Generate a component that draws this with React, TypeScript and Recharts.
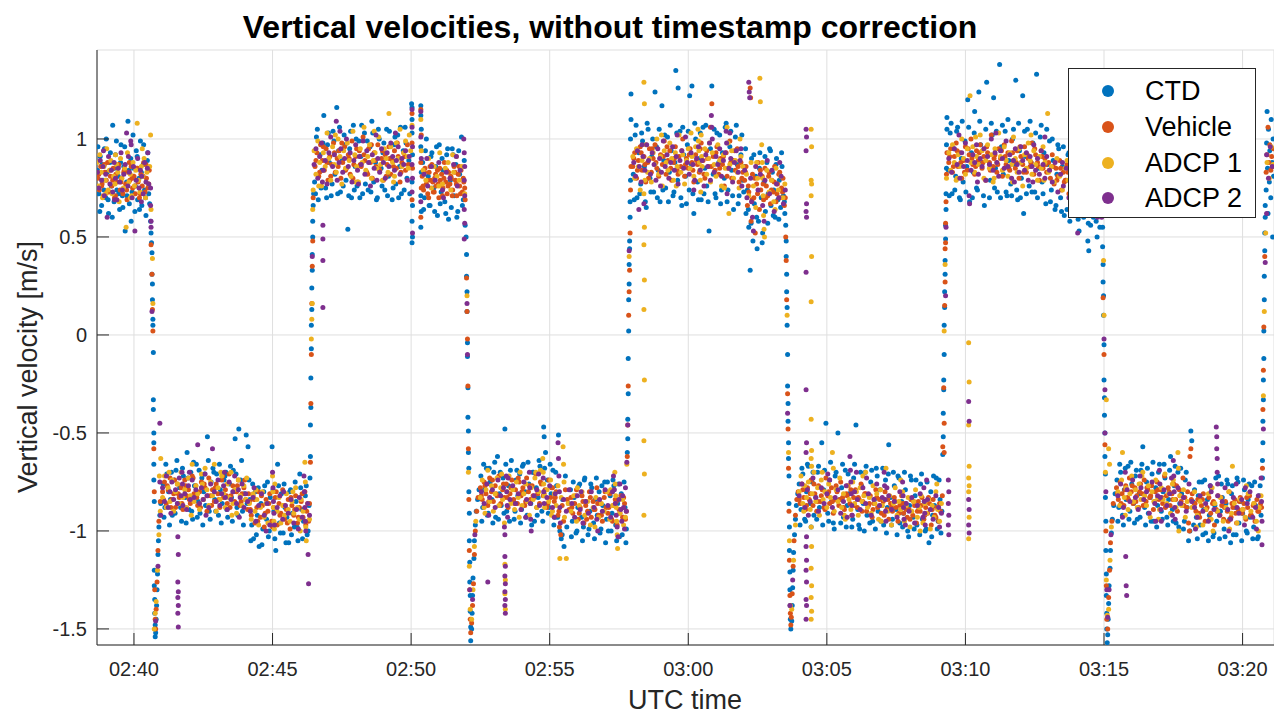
import React from 'react';
import { ScatterChart, Scatter, XAxis, YAxis, CartesianGrid } from 'recharts';

// time axis: seconds since 02:00:00 UTC
const xTicks = [2400, 2700, 3000, 3300, 3600, 3900, 4200, 4500, 4800];
const xTickLabels = ['02:40', '02:45', '02:50', '02:55', '03:00', '03:05', '03:10', '03:15', '03:20'];
const yTicks = [-1.5, -1, -0.5, 0, 0.5, 1];
const yTickLabels = ['-1.5', '-1', '-0.5', '0', '0.5', '1'];
const seriesNames = ['CTD', 'Vehicle', 'ADCP 1', 'ADCP 2'];
const seriesColors = ['#0072BD', '#D95319', '#EDB120', '#7E2F8E'];

// ---------- CTD (time [s], velocity [m/s]) pairs ----------
const ctdLeg1 = [2321,0.84,2324,0.72,2327,0.91,2330,0.66,2333,0.79,2336,0.95,2339,0.70,2342,0.83,2345,0.62,2348,0.88,2351,0.76,2354,1.07,2357,0.68,2360,0.92,2363,0.74,2366,0.81,2369,0.64,2372,0.97,2375,0.71,2378,0.86,2381,0.53,2384,0.78,2387,1.09,2390,0.67,2393,0.90,2396,0.73,2399,0.85,2402,0.63,2405,0.94,2408,0.69,2411,0.80,2414,0.99,2417,0.66,2420,0.87,2423,0.74,2426,0.61,2429,0.89,2432,0.72,
2436,0.58,2437,0.52,2438,0.47,2439,0.42,2439,0.31,2440,0.26,2440,0.18,2441,0.08,2441,0.05,2442,-0.09,2442,-0.33,2442,-0.38,2443,-0.50,2443,-0.55,2443,-0.66,2443,-0.74,2444,-0.85,2444,-1.20,2444,-1.28,2445,-1.35,2445,-1.42,2446,-1.48,2446,-1.54,
2447,-1.52,2448,-1.45,2449,-1.38,2450,-1.30,2451,-1.22,2452,-1.12,2453,-1.05,2454,-0.98,2456,-0.92,2458,-0.86];
const ctdLeg2 = [2463,-0.76,2467,-0.88,2471,-0.71,2475,-0.80,2479,-0.84,2483,-0.92,2487,-0.74,2491,-0.69,2495,-0.86,2499,-0.78,2503,-0.95,2507,-0.72,2511,-0.83,2515,-0.60,2519,-0.89,2523,-0.70,2527,-0.94,2531,-0.77,2535,-0.66,2539,-0.85,2543,-0.91,2547,-0.73,2551,-0.80,2555,-0.87,2559,-0.52,2563,-0.90,2567,-0.75,2571,-0.68,2575,-0.84,2579,-0.71,2583,-0.92,2587,-0.79,2591,-0.86,2595,-0.74,2599,-0.70,2603,-0.93,2607,-0.76,2611,-0.83,2615,-0.69,2619,-0.53,2623,-0.88,2627,-0.48,2631,-0.74,2635,-0.90,2639,-0.81,2643,-0.51,2647,-0.57,
2651,-0.84,2655,-0.97,2659,-1.04,2663,-0.80,2667,-0.92,2671,-1.08,2675,-0.86,2679,-0.99,2683,-0.77,2687,-0.94,2691,-1.03,2695,-0.83,2699,-0.57,2703,-0.90,2707,-1.10,2711,-0.66,2715,-0.96,2719,-0.81,2723,-1.01,2727,-0.88,2731,-0.93,2735,-1.06,2739,-0.79,2743,-0.91,2747,-0.98,2751,-0.85,2755,-1.05,2759,-0.71,2763,-0.89,2767,-0.95,2771,-0.82,2775,-1.02,2779,-0.87,
2781,-0.73,2782,-0.62,2782,-0.46,2783,-0.37,2783,-0.22,2784,-0.07,2784,0.05,2785,0.13,2785,0.24,2786,0.33,2786,0.41,2787,0.50,2787,0.58,2788,0.66,2789,0.72];
const ctdLeg3 = [2791,0.78,2795,1.01,2799,0.69,2803,0.92,2807,0.84,2811,1.12,2815,0.75,2819,0.97,2823,0.88,2827,0.71,2831,1.04,2835,0.82,2839,1.16,2843,0.94,2847,0.73,2851,0.89,2855,1.02,2859,0.79,2863,0.54,2867,0.95,2871,0.70,2875,1.07,2879,0.86,2883,0.76,2887,0.99,2891,0.91,2895,0.72,2899,1.03,2903,0.83,2907,0.74,2911,0.96,2915,1.09,2919,0.78,2923,0.88,2927,0.70,2931,1.00,2935,0.85,2939,0.93,2943,0.74,2947,1.05,2951,0.81,2955,0.90,2959,0.69,2963,0.97,2967,0.77,2971,1.02,2975,0.86,2979,0.72,2983,0.94,2987,1.06,2991,0.80,2995,0.89,
3001,1.18,3002,1.16,3002,1.10,3002,1.03,3003,0.92,3002,0.78,3003,0.66,3002,0.58,3003,0.50,3002,0.47,
3021,1.17,3021,1.12,3022,1.05,3021,0.96,3022,0.83,3021,0.71,3022,0.63,3021,0.55,
3025,0.88,3029,0.70,3033,1.00,3037,0.81,3041,0.66,3045,0.93,3049,0.75,3053,0.86,3057,0.61,3061,0.97,3065,0.73,3069,0.84,3073,0.68,3077,0.92,3081,0.59,3085,0.79,3089,0.95,3093,0.71,3097,0.87,3101,0.63,3105,0.82,3109,1.01,3113,0.69,3117,0.56,
3119,0.50,3120,0.41,3120,0.30,3121,0.22,3121,0.12,3122,-0.04,3122,-0.11,3123,-0.27,3123,-0.42,3124,-0.49,3124,-0.60,3125,-0.68,3125,-0.80,3126,-0.91,3126,-1.05,3127,-1.16,3127,-1.26,3128,-1.33,3128,-1.41,3129,-1.49,3129,-1.56,
3131,-1.50,3132,-1.42,3133,-1.33,3134,-1.24,3136,-1.14,3137,-1.05,3139,-0.97,3141,-0.90,3144,-0.84,3147,-0.79];
const ctdLeg4 = [3151,-0.72,3155,-0.88,3159,-0.79,3163,-0.68,3167,-0.91,3171,-0.75,3175,-0.84,3179,-0.70,3183,-0.93,3187,-0.62,3191,-0.81,3195,-0.87,3199,-0.73,3203,-0.48,3207,-0.90,3211,-0.77,3215,-0.69,3219,-0.85,3223,-0.94,3227,-0.74,3231,-0.82,3235,-0.71,3239,-0.89,3243,-0.66,3247,-0.80,3251,-0.92,3255,-0.76,3259,-0.86,3263,-0.70,3267,-0.95,3271,-0.78,3275,-0.83,3279,-0.67,3283,-0.90,3287,-0.47,3288,-0.52,3291,-0.60,3295,-0.74,3299,-0.88,3303,-0.81,3307,-0.69,3311,-0.93,3315,-0.77,3319,-0.51,3322,-1.00,3325,-1.04,3328,-0.84,3331,-1.08,3334,-0.72,3337,-0.98,3341,-0.86,
3345,-0.79,3349,-0.95,3353,-0.83,3357,-1.01,3361,-0.88,3365,-0.76,3369,-0.93,3373,-0.98,3376,-0.73,3379,-0.85,3383,-1.02,3387,-0.90,3391,-0.78,3395,-0.96,3399,-0.84,3403,-0.92,3407,-0.80,3411,-0.99,3415,-0.87,3419,-0.75,3423,-0.94,3427,-1.00,3431,-0.82,3435,-0.91,3439,-0.77,3443,-0.97,3447,-0.86,3451,-1.03,3455,-0.81,3459,-0.93,3463,-0.88,3466,-0.99,
3468,-0.60,3469,-0.53,3469,-0.43,3470,-0.30,3470,-0.12,3471,0.02,3471,0.18,3472,0.26,3472,0.36,3473,0.44,3473,0.48,3474,0.60,3474,0.68,3475,0.79,3475,1.00,3476,1.10,3476,1.23];
const ctdLeg5 = [3481,0.82,3485,1.02,3489,0.70,3493,0.93,3497,0.77,3501,0.99,3505,0.86,3509,0.65,3513,1.05,3517,0.80,3521,0.91,3525,0.73,3528,1.24,3531,0.96,3535,0.84,3539,0.68,3543,1.17,3547,0.89,3551,0.75,3555,1.01,3559,0.83,3563,0.94,3567,0.71,3571,0.88,3573,1.35,3577,0.79,3578,1.26,3582,1.04,3586,0.66,3590,0.92,3594,0.81,3598,0.97,3602,0.74,3603,1.22,3607,0.87,3608,1.27,3612,0.62,3616,1.00,3620,0.78,3624,0.90,3628,0.69,3632,1.06,3636,0.85,3640,0.76,3645,0.53,3648,0.95,3651,1.27,3654,0.82,3658,0.72,3662,1.03,3666,0.88,3670,0.67,3674,0.93,3678,0.80,3682,1.08,3686,0.74,3690,0.96,3694,0.84,3698,0.64,3702,1.01,3706,0.87,3710,0.71,3714,0.92,3718,0.79,
3722,0.86,3725,0.62,3728,0.74,3731,0.55,3734,0.33,3737,0.90,3740,0.48,3743,0.67,3746,0.81,3749,0.44,3752,0.58,3755,0.93,3758,0.70,3761,0.52,3764,0.78,3767,0.63,3770,0.88,3773,0.72,3776,0.95,3779,0.66,3782,0.83,3785,0.74,3788,0.60,3791,0.90,3794,0.69,3797,0.79,3800,0.65,3803,0.86,3806,0.71,3809,0.62,
3811,0.56,3812,0.48,3812,0.40,3813,0.31,3813,0.22,3814,0.14,3814,0.05,3815,-0.10,3815,-0.26,3816,-0.35,3816,-0.44,3817,-0.55,3817,-0.63,3818,-0.72,3818,-0.86,3819,-0.98,3819,-1.10,3820,-1.21,3820,-1.30,3821,-1.38,3821,-1.45,3822,-1.50,
3824,-1.46,3825,-1.38,3826,-1.29,3827,-1.20,3828,-1.11,3830,-1.02,3832,-0.94,3834,-0.87,3837,-0.81];
const ctdLeg6 = [3840,-0.76,3844,-0.89,3848,-0.71,3852,-0.94,3856,-0.80,3860,-0.67,3864,-0.86,3868,-0.75,3872,-0.92,3876,-0.83,3880,-0.70,3884,-0.88,3889,-0.55,3893,-0.79,3898,-0.45,3902,-0.91,3906,-0.74,3910,-0.85,3914,-0.96,3918,-0.72,3924,-0.50,3928,-0.84,3932,-0.78,3936,-0.93,3940,-0.69,3944,-0.87,3948,-0.81,3954,-0.98,3958,-0.73,3963,-0.46,3967,-0.89,3971,-0.99,3975,-0.77,3979,-0.86,3983,-0.70,3987,-0.92,3991,-0.82,3995,-0.75,3999,-0.95,4003,-0.84,4007,-0.68,4011,-0.90,4015,-0.79,4019,-0.87,4023,-0.97,4027,-0.74,4031,-0.88,4034,-0.56,4038,-0.83,4042,-0.94,4046,-0.77,4050,-0.89,4054,-0.72,4058,-0.96,4062,-0.85,4066,-0.91,4070,-0.79,4075,-1.00,4079,-0.87,4083,-0.74,4087,-0.93,4091,-0.82,4095,-0.97,4099,-0.88,4103,-0.76,4107,-0.94,4111,-0.85,4115,-0.99,4121,-1.06,4125,-0.80,4129,-0.92,4133,-0.87,4137,-0.73,4141,-0.95,4145,-0.84,4149,-0.90,
4151,-0.61,4152,-0.52,4152,-0.40,4153,-0.28,4153,-0.23,4154,-0.10,4154,0.05,4155,0.14,4155,0.22,4156,0.31,4156,0.38,4157,0.49,4157,0.56,4158,0.64,4158,0.72,4159,0.85,4159,0.97,4160,1.05,4160,1.11];
const ctdLeg7 = [4163,0.84,4167,1.03,4171,0.72,4175,0.95,4179,0.81,4183,1.06,4187,0.70,4191,0.90,4195,0.78,4199,0.99,4203,0.86,4205,1.20,4209,0.68,4213,0.93,4217,0.83,4220,1.14,4224,0.75,4229,1.24,4233,0.97,4237,0.88,4241,0.66,4246,1.29,4250,0.92,4254,0.79,4258,1.02,4261,1.21,4265,0.85,4269,0.73,4274,1.38,4278,0.96,4282,0.82,4286,1.04,4290,0.71,4294,0.89,4298,0.77,4302,1.00,4306,0.87,4309,1.30,4313,0.69,4317,0.94,4321,0.80,4324,1.22,4326,0.62,4330,0.91,4334,1.05,4338,0.76,4342,0.88,4346,0.98,4350,0.73,4354,1.33,4358,0.85,4362,1.01,4366,0.78,4370,0.93,4374,0.67,4378,0.87,
4382,0.99,4386,0.74,4390,0.89,4394,0.64,4398,0.82,4402,0.95,4406,0.70,4410,0.86,4414,0.61,4418,0.79,4422,0.92,4426,0.58,4430,0.75,4434,0.88,4438,0.66,4442,0.80,4446,0.53,4450,0.72,4454,0.86,4458,0.63,4462,0.77,4465,0.48,4466,0.57,4467,0.43,4469,0.69,4473,0.82,4477,0.60,4481,0.74,4485,0.50,4489,0.68,4493,0.79,
4496,0.63,4497,0.55,4497,0.45,4498,0.36,4498,0.27,4499,0.20,4499,0.10,4500,-0.05,4500,-0.23,4501,-0.32,4501,-0.41,4502,-0.50,4502,-0.62,4503,-0.71,4503,-0.83,4504,-0.95,4504,-1.10,4505,-1.22,4505,-1.33,4506,-1.42,4506,-1.50,4507,-1.57,
4508,-1.53,4509,-1.45,4510,-1.37,4511,-1.28,4513,-1.19,4514,-1.10,4516,-1.01,4518,-0.94,4521,-0.87,4524,-0.81];
const ctdLeg8 = [4528,-0.74,4532,-0.88,4536,-0.70,4540,-0.92,4544,-0.79,4548,-0.84,4552,-0.67,4556,-0.90,4560,-0.76,4564,-0.86,4568,-0.72,4572,-0.94,4576,-0.81,4580,-0.69,4584,-0.57,4588,-0.88,4592,-0.75,4596,-0.91,4600,-0.83,4604,-0.71,4608,-0.95,4612,-0.78,4616,-0.87,4620,-0.66,4624,-0.90,4628,-0.80,4632,-0.73,4636,-0.93,4640,-0.84,4644,-0.62,4648,-0.89,4652,-0.77,4656,-0.96,4660,-0.70,4664,-0.86,4668,-0.81,4672,-0.99,4676,-0.74,4680,-0.88,4683,-1.05,4686,-1.00,4688,-0.49,4690,-0.54,4692,-0.85,4696,-0.79,
4700,-0.93,4704,-0.82,4708,-0.97,4712,-0.75,4716,-0.89,4720,-1.01,4724,-0.84,4728,-0.92,4732,-0.78,4736,-1.03,4740,-0.87,4744,-0.95,4748,-0.72,4752,-0.90,4756,-0.83,4760,-0.99,4764,-0.86,4768,-0.76,4772,-0.94,4776,-0.81,4780,-1.02,4784,-0.88,4788,-0.73,4792,-0.96,4796,-0.85,4800,-0.91,4804,-0.79,4808,-1.00,4812,-0.84,4816,-0.93,4820,-0.77,4824,-0.98,4828,-0.87,4832,-1.04,4836,-0.82,4840,-0.92,
4843,-0.73,4843,-0.64,4844,-0.55,4844,-0.44,4845,-0.33,4845,-0.23,4846,-0.12,4846,0.02,4847,0.18,4847,0.30,4848,0.43,4848,0.52,4849,0.60,4849,0.66];
const ctdLeg9 = [4851,0.74,4852,0.98,4853,1.14,4854,0.85,4855,0.62,4856,1.05,4858,0.78,4859,0.94,4861,0.70,4862,1.10,4864,0.88,4865,0.50,4866,1.00,4867,0.81];
// extra CTD samples (band edges)
const ctdExtraA = [2322,0.96,2326,0.63,2331,0.87,2335,0.74,2340,1.00,2344,0.69,2349,0.93,2353,0.60,2358,0.85,2362,0.99,2367,0.72,2371,0.88,2376,0.65,2380,0.96,2385,0.71,2389,0.84,2394,0.58,2398,1.02,2403,0.76,2407,0.91,2412,0.64,2416,0.83,2421,0.97,2425,0.70,2430,0.93,2434,0.67];
const ctdExtraB = [2465,-0.93,2469,-0.66,2477,-0.97,2481,-0.70,2489,-0.91,2493,-0.64,2501,-0.88,2505,-0.68,2513,-0.96,2517,-0.73,2525,-0.90,2529,-0.65,2537,-0.93,2541,-0.69,2549,-0.97,2553,-0.71,2561,-0.64,2565,-0.94,2573,-0.70,2577,-0.90,2585,-0.66,2589,-0.96,2597,-0.72,2601,-0.89,2609,-0.67,2613,-0.95,2621,-0.71,2625,-0.92,2633,-0.64,2637,-0.97,2645,-0.86,2649,-0.74,
2653,-1.05,2657,-0.76,2665,-1.02,2669,-0.78,2677,-1.07,2681,-0.80,2689,-0.75,2693,-1.00,2701,-0.79,2705,-1.04,2713,-0.77,2717,-1.01,2725,-0.76,2729,-1.06,2737,-0.80,2741,-1.02,2749,-0.75,2753,-0.98,2761,-0.78,2765,-1.04,2773,-0.77,2777,-1.00];
const ctdExtraC = [2793,0.72,2797,1.05,2805,0.75,2809,0.98,2817,0.70,2821,1.03,2829,0.77,2833,0.99,2841,0.72,2845,1.06,2853,0.76,2857,0.97,2865,0.71,2869,1.04,2877,0.74,2881,1.00,2889,0.70,2893,1.07,2901,0.77,2905,0.99,2913,0.73,2917,1.03,2925,0.69,2929,1.05,2937,0.76,2941,0.98,2949,0.71,2953,1.04,2961,0.75,2965,1.01,2973,0.70,2977,1.06,2985,0.74,2989,0.98,2997,0.72,
3027,0.64,3031,0.94,3039,0.66,3043,0.91,3051,0.63,3055,0.96,3063,0.67,3067,0.90,3075,0.62,3079,0.95,3087,0.65,3091,0.92,3099,0.60,3103,0.94,3111,0.66,3115,0.89];
const ctdExtraD = [3153,-0.95,3157,-0.66,3165,-0.92,3169,-0.68,3177,-0.96,3181,-0.65,3189,-0.94,3193,-0.70,3201,-0.91,3205,-0.66,3213,-0.95,3217,-0.64,3225,-0.90,3229,-0.69,3237,-0.96,3241,-0.67,3249,-0.93,3253,-0.65,3261,-0.97,3265,-0.70,3273,-0.92,3277,-0.64,3285,-0.95,3289,-0.68,3297,-0.91,3301,-0.66,3309,-0.97,3313,-0.70,3317,-0.93,3327,-1.02,
3347,-1.03,3351,-0.75,3359,-1.00,3363,-0.77,3371,-1.05,3375,-0.74,3385,-0.99,3389,-0.76,3397,-1.04,3401,-0.73,3409,-1.01,3413,-0.77,3421,-1.06,3425,-0.75,3433,-1.00,3437,-0.74,3445,-1.05,3449,-0.76,3457,-1.02,3461,-0.75,3465,-1.06];
const ctdExtraE = [3483,0.69,3487,1.07,3495,0.72,3499,1.03,3507,0.68,3511,1.08,3519,0.73,3523,1.00,3533,0.70,3537,1.05,3545,0.74,3549,1.02,3557,0.68,3561,1.07,3569,0.73,3575,1.03,3584,0.70,3588,1.06,3596,0.67,3600,1.04,3610,0.72,3614,1.08,3622,0.69,3626,1.03,3634,0.72,3638,1.07,3643,0.68,3656,1.05,3660,0.70,3668,1.02,3672,0.74,3680,1.06,3684,0.68,3692,1.04,3696,0.71,3704,1.07,3708,0.67,3716,1.02,3720,0.73,
3724,0.95,3730,0.64,3736,0.57,3742,0.92,3748,0.60,3754,0.85,3760,0.47,3766,0.91,3772,0.57,3778,0.94,3784,0.61,3790,0.87,3796,0.59,3802,0.93,3808,0.68];
const ctdExtraF = [3842,-0.97,3846,-0.68,3854,-0.95,3858,-0.66,3866,-0.98,3870,-0.70,3878,-0.94,3882,-0.67,3891,-0.97,3895,-0.69,3904,-0.95,3908,-0.65,3916,-0.99,3920,-0.70,3930,-0.96,3934,-0.66,3942,-0.98,3946,-0.71,3956,-0.94,3960,-0.66,3969,-0.97,3973,-0.70,3981,-1.00,3985,-0.67,3993,-0.96,3997,-0.69,4005,-0.99,4009,-0.72,4017,-0.95,4021,-0.68,4029,-1.01,4033,-0.71,4040,-0.97,4044,-0.70,4052,-1.02,4056,-0.73,4064,-0.98,4068,-0.70,4077,-1.03,4081,-0.72,4089,-0.99,4093,-0.74,4101,-1.02,4105,-0.71,4113,-1.00,4117,-0.75,4127,-1.03,4131,-0.72,4139,-0.99,4143,-0.74,4147,-1.01];
const ctdExtraG = [4165,0.71,4169,1.08,4177,0.74,4181,1.04,4189,0.69,4193,1.09,4201,0.73,4207,1.06,4215,0.70,4219,1.03,4226,0.74,4231,1.09,4239,0.71,4244,1.05,4252,0.70,4256,1.08,4263,0.75,4267,1.04,4276,0.70,4280,1.07,4288,0.73,4292,1.10,4300,0.71,4304,1.05,4311,0.74,4315,1.08,4319,0.70,4328,1.04,4332,0.72,4340,1.09,4344,0.73,4352,1.03,4356,0.70,4364,1.07,4368,0.72,4376,1.05,
4384,0.68,4388,1.00,4396,0.66,4400,0.97,4408,0.63,4412,0.96,4420,0.64,4424,0.93,4432,0.62,4436,0.95,4444,0.59,4448,0.91,4456,0.60,4460,0.90,4471,0.56,4475,0.88,4483,0.58,4487,0.87,4491,0.55];
const ctdExtraH = [4530,-0.95,4534,-0.66,4542,-0.97,4546,-0.68,4554,-0.94,4558,-0.65,4566,-0.96,4570,-0.69,4578,-0.93,4582,-0.66,4590,-0.97,4594,-0.68,4602,-0.95,4606,-0.65,4614,-0.98,4618,-0.70,4626,-0.94,4630,-0.66,4638,-0.97,4642,-0.69,4650,-0.95,4654,-0.67,4662,-0.98,4666,-0.68,4674,-0.95,4678,-0.70,4694,-0.97,
4702,-1.04,4706,-0.75,4714,-1.02,4718,-0.74,4726,-1.05,4730,-0.77,4738,-1.01,4742,-0.73,4750,-1.04,4754,-0.76,4762,-1.03,4766,-0.74,4774,-1.06,4778,-0.77,4786,-1.02,4790,-0.75,4798,-1.05,4802,-0.74,4810,-1.01,4814,-0.76,4822,-1.04,4826,-0.75,4834,-1.03,4838,-0.77];

// ---------- Vehicle ----------
const vehLeg1 = [2322,0.80,2325,0.74,2328,0.86,2331,0.77,2334,0.71,2337,0.83,2340,0.79,2343,0.88,2346,0.73,2349,0.81,2352,0.76,2355,0.85,2358,0.70,2361,0.82,2364,0.78,2367,0.87,2370,0.74,2373,0.80,2376,0.72,2379,0.84,2382,0.77,2385,0.69,2388,0.83,2391,0.79,2394,0.86,2397,0.75,2400,0.81,2403,0.72,2406,0.85,2409,0.78,2412,0.70,2415,0.82,2418,0.76,2421,0.88,2424,0.73,2427,0.80,2430,0.75,2433,0.84,
2437,0.46,2439,0.31,2440,0.13,2441,0.02,2443,-0.58,2444,-0.80,2445,-1.30,2446,-1.45,2447,-1.50,2448,-1.40,2450,-1.26,2452,-1.10,2454,-0.95,2457,-0.85];
const vehLeg2 = [2462,-0.80,2466,-0.75,2470,-0.86,2474,-0.79,2478,-0.73,2482,-0.84,2486,-0.81,2490,-0.88,2494,-0.76,2498,-0.83,2502,-0.78,2506,-0.89,2510,-0.74,2514,-0.82,2518,-0.79,2522,-0.86,2526,-0.72,2530,-0.81,2534,-0.77,2538,-0.87,2542,-0.80,2546,-0.75,2550,-0.84,2554,-0.78,2558,-0.90,2562,-0.73,2566,-0.82,2570,-0.79,2574,-0.85,2578,-0.76,2582,-0.81,2586,-0.88,2590,-0.74,2594,-0.83,2598,-0.79,2602,-0.86,2606,-0.71,2610,-0.82,2614,-0.77,2618,-0.85,2622,-0.80,2626,-0.74,2630,-0.87,2634,-0.81,2638,-0.78,2642,-0.84,2646,-0.89,
2650,-0.85,2654,-0.92,2658,-0.82,2662,-0.96,2666,-0.88,2670,-0.80,2674,-0.93,2678,-0.87,2682,-0.98,2686,-0.84,2690,-0.90,2694,-0.81,2698,-0.95,2702,-0.88,2706,-0.83,2710,-0.97,2714,-0.86,2718,-0.91,2722,-0.79,2726,-0.94,2730,-0.89,2734,-0.84,2738,-0.99,2742,-0.87,2746,-0.92,2750,-0.82,2754,-0.96,2758,-0.88,2762,-0.85,2766,-0.93,2770,-0.80,2774,-0.90,2778,-0.95,
2782,-0.65,2783,-0.35,2784,-0.10,2785,0.16,2786,0.35,2787,0.48,2788,0.70];
const vehLeg3 = [2792,0.86,2796,0.93,2800,0.81,2804,0.97,2808,0.89,2812,0.84,2816,0.95,2820,0.79,2824,0.91,2828,0.87,2832,0.98,2836,0.83,2840,0.90,2844,0.94,2848,0.80,2852,0.88,2856,0.96,2860,0.85,2864,0.92,2868,0.82,2872,0.99,2876,0.87,2880,0.91,2884,0.78,2888,0.94,2892,0.86,2896,1.01,2900,0.89,2904,0.83,2908,0.95,2912,0.88,2916,0.80,2920,0.93,2924,0.86,2928,0.97,2932,0.84,2936,0.90,2940,0.79,2944,0.92,2948,0.87,2952,0.96,2956,0.82,2960,0.89,2964,0.94,2968,0.85,2972,0.91,2976,0.78,2980,0.88,2984,0.93,2988,0.84,2992,0.97,2996,0.86,
3002,1.13,3002,0.98,3003,0.85,3002,0.69,3021,1.15,3022,1.02,3021,0.88,3022,0.75,3021,0.60,
3024,0.81,3027,0.74,3030,0.85,3033,0.77,3036,0.72,3039,0.83,3042,0.79,3045,0.87,3048,0.73,3051,0.80,3054,0.76,3057,0.84,3060,0.70,3063,0.79,3066,0.82,3069,0.75,3072,0.88,3075,0.78,3078,0.72,3081,0.83,3084,0.77,3087,0.80,3090,0.74,3093,0.86,3096,0.79,3099,0.71,3102,0.82,3105,0.76,3108,0.84,3111,0.73,3114,0.78,3117,0.69,
3120,0.29,3121,0.12,3122,-0.02,3123,-0.26,3124,-0.58,3125,-0.84,3126,-1.10,3127,-1.30,3128,-1.45,3129,-1.52,3131,-1.47,3133,-1.38,3135,-1.27,3137,-1.12,3139,-1.00,3142,-0.90,3145,-0.83];
const vehLeg4 = [3150,-0.78,3154,-0.84,3158,-0.75,3162,-0.81,3166,-0.87,3170,-0.73,3174,-0.80,3178,-0.85,3182,-0.77,3186,-0.82,3190,-0.72,3194,-0.86,3198,-0.79,3202,-0.83,3206,-0.76,3210,-0.88,3214,-0.81,3218,-0.74,3222,-0.84,3226,-0.79,3230,-0.86,3234,-0.75,3238,-0.82,3242,-0.78,3246,-0.87,3250,-0.73,3254,-0.80,3258,-0.84,3262,-0.77,3266,-0.83,3270,-0.71,3274,-0.81,3278,-0.86,3282,-0.76,3286,-0.82,3290,-0.79,3294,-0.88,3298,-0.74,3302,-0.83,3306,-0.78,3310,-0.85,3314,-0.80,3318,-0.92,3321,-0.98,3324,-1.02,3327,-0.87,3330,-0.95,3334,-0.79,3338,-0.84,3342,-0.89,
3346,-0.83,3350,-0.91,3354,-0.86,3358,-0.79,3362,-0.94,3366,-0.88,3370,-0.82,3374,-0.96,3378,-0.87,3382,-0.90,3386,-0.80,3390,-0.93,3394,-0.85,3398,-0.89,3402,-0.78,3406,-0.92,3410,-0.86,3414,-0.95,3418,-0.83,3422,-0.88,3426,-0.91,3430,-0.81,3434,-0.94,3438,-0.87,3442,-0.84,3446,-0.97,3450,-0.89,3454,-0.82,3458,-0.93,3462,-0.86,3466,-0.90,
3468,-0.62,3469,-0.46,3470,-0.26,3471,0.10,3472,0.22,3473,0.33,3474,0.52,3475,0.74,3476,0.86];
const vehLeg5 = [3480,0.86,3484,0.93,3488,0.80,3492,0.89,3496,0.96,3500,0.84,3504,0.91,3508,0.78,3512,0.88,3516,0.95,3520,0.83,3524,0.90,3528,0.97,3532,0.85,3536,0.81,3540,0.92,3544,0.87,3548,0.99,3552,0.82,3556,0.89,3560,0.94,3564,0.79,3568,0.88,3572,0.96,3576,0.84,3580,0.91,3584,0.86,3588,1.00,3592,0.81,3596,0.90,3600,0.85,3604,0.95,3608,0.88,3612,0.78,3616,0.92,3620,0.87,3624,0.83,3628,0.98,3632,0.89,3636,0.80,3640,0.94,3644,0.86,3648,1.06,3651,1.18,3654,0.91,3658,0.84,3662,0.96,3666,0.82,3670,0.90,3674,0.87,3678,0.76,3682,0.93,3686,0.85,3690,0.99,3694,0.80,3698,0.89,3702,0.84,3706,0.95,3710,0.78,3714,0.88,3718,0.83,
3722,0.79,3725,0.86,3728,0.66,3731,0.73,3734,1.26,3735,1.21,3736,0.58,3739,0.82,3742,0.70,3745,0.52,3748,0.77,3751,0.88,3754,0.64,3757,0.74,3760,0.81,3763,0.69,3766,0.85,3769,0.76,3772,0.71,3775,0.83,3778,0.67,3781,0.79,3784,0.73,3787,0.86,3790,0.68,3793,0.77,3796,0.82,3799,0.70,3802,0.75,3805,0.80,3808,0.66,3811,0.50,
3812,0.38,3813,0.18,3815,-0.30,3816,-0.48,3817,-0.68,3818,-0.90,3819,-1.15,3820,-1.33,3821,-1.42,3822,-1.48,3823,-1.44,3825,-1.32,3827,-1.18,3829,-1.05,3832,-0.92,3835,-0.84];
const vehLeg6 = [3838,-0.80,3842,-0.86,3846,-0.76,3850,-0.83,3854,-0.89,3858,-0.78,3862,-0.84,3866,-0.74,3870,-0.87,3874,-0.81,3878,-0.90,3882,-0.77,3886,-0.85,3890,-0.79,3894,-0.88,3898,-0.73,3902,-0.82,3906,-0.86,3910,-0.78,3914,-0.91,3918,-0.84,3922,-0.80,3926,-0.87,3930,-0.75,3934,-0.83,3938,-0.89,3942,-0.81,3946,-0.77,3950,-0.86,3954,-0.92,3958,-0.83,3962,-0.79,3966,-0.88,3970,-0.84,3974,-0.76,3978,-0.85,3982,-0.81,3986,-0.90,3990,-0.87,3994,-0.82,3998,-0.93,4002,-0.86,4006,-0.79,4010,-0.88,4014,-0.84,4018,-0.91,4022,-0.85,4026,-0.80,4030,-0.89,4034,-0.94,4038,-0.86,4042,-0.90,4046,-0.83,4050,-0.88,4054,-0.95,4058,-0.87,4062,-0.82,4066,-0.91,4070,-0.86,4074,-0.93,4078,-0.89,4082,-0.84,4086,-0.92,4090,-0.87,4094,-0.96,4098,-0.85,4102,-0.90,4106,-0.83,4110,-0.94,4114,-0.88,4118,-0.91,4122,-0.86,4126,-0.97,4130,-0.84,4134,-0.92,4138,-0.88,4142,-0.95,4146,-0.90,4150,-0.82,
4151,-0.57,4153,-0.27,4154,-0.45,4154,-0.60,4155,0.15,4156,0.27,4156,0.44,4157,0.47,4157,0.57,4158,0.68,4159,0.82,4160,0.93];
const vehLeg7 = [4164,0.88,4168,0.95,4172,0.83,4176,0.91,4180,0.98,4184,0.86,4188,0.93,4192,0.80,4196,0.89,4200,0.96,4204,0.84,4208,0.92,4212,1.00,4216,0.87,4220,0.82,4224,0.94,4228,0.89,4232,0.97,4236,0.85,4240,0.91,4244,0.79,4248,0.93,4252,0.88,4256,1.02,4260,0.86,4264,0.92,4268,0.83,4272,0.95,4276,0.90,4280,0.81,4284,0.97,4288,0.87,4292,0.93,4296,0.84,4300,0.99,4304,0.89,4308,0.85,4312,0.94,4316,0.80,4320,0.91,4324,0.87,4328,0.96,4332,0.83,4336,0.90,4340,0.86,4344,0.98,4348,0.82,4352,0.92,4356,0.88,4360,0.79,4364,0.94,4368,0.85,4372,0.90,4376,0.83,
4380,0.88,4384,0.80,4388,0.92,4392,0.77,4396,0.85,4400,0.81,4404,0.89,4408,0.74,4412,0.83,4416,0.79,4420,0.87,4424,0.72,4428,0.81,4432,0.76,4436,0.84,4440,0.70,4444,0.79,4448,0.74,4452,0.82,4456,0.68,4460,0.77,4464,0.72,4468,0.80,4472,0.66,4476,0.75,4480,0.70,4484,0.78,4488,0.64,4492,0.73,
4498,0.19,4500,-0.10,4502,-0.56,4504,-1.00,4505,-1.28,4506,-1.45,4508,-1.50,4510,-1.34,4512,-1.20,4514,-1.06,4517,-0.95,4520,-0.86];
const vehLeg8 = [4527,-0.78,4531,-0.84,4535,-0.75,4539,-0.81,4543,-0.87,4547,-0.77,4551,-0.83,4555,-0.73,4559,-0.80,4563,-0.86,4567,-0.78,4571,-0.82,4575,-0.88,4579,-0.76,4583,-0.81,4587,-0.74,4591,-0.85,4595,-0.79,4599,-0.83,4603,-0.77,4607,-0.89,4611,-0.80,4615,-0.75,4619,-0.84,4623,-0.79,4627,-0.86,4631,-0.72,4635,-0.82,4639,-0.78,4643,-0.87,4647,-0.81,4651,-0.76,4655,-0.84,4659,-0.90,4663,-0.79,4667,-0.85,4671,-0.73,4675,-0.83,4679,-0.88,4683,-0.96,4685,-1.00,4686,-0.62,4688,-0.58,4691,-0.81,4695,-0.86,
4699,-0.90,4703,-0.84,4707,-0.93,4711,-0.87,4715,-0.81,4719,-0.95,4723,-0.88,4727,-0.83,4731,-0.91,4735,-0.86,4739,-0.97,4743,-0.89,4747,-0.82,4751,-0.92,4755,-0.87,4759,-0.94,4763,-0.85,4767,-0.90,4771,-0.80,4775,-0.93,4779,-0.88,4783,-0.84,4787,-0.96,4791,-0.89,4795,-0.83,4799,-0.91,4803,-0.86,4807,-0.94,4811,-0.88,4815,-0.82,4819,-0.92,4823,-0.87,4827,-0.95,4831,-0.84,4835,-0.90,4839,-0.86,
4843,-0.68,4844,-0.38,4845,-0.18,4846,0.04,4848,0.40];
const vehLeg9 = [4851,0.83,4853,0.92,4855,1.06,4857,0.88,4859,0.97,4861,0.84,4863,0.91,4865,0.86,4867,0.95];
const vehExtraA = [2324,0.82,2330,0.76,2336,0.87,2342,0.73,2348,0.84,2354,0.79,2360,0.71,2366,0.86,2372,0.78,2378,0.83,2384,0.74,2390,0.88,2396,0.80,2402,0.76,2408,0.85,2414,0.72,2420,0.81,2426,0.87,2432,0.77];
const vehExtraB = [2464,-0.84,2472,-0.77,2480,-0.88,2488,-0.74,2496,-0.81,2504,-0.86,2512,-0.77,2520,-0.84,2528,-0.73,2536,-0.83,2544,-0.88,2552,-0.76,2560,-0.82,2568,-0.87,2576,-0.78,2584,-0.84,2592,-0.72,2600,-0.82,2608,-0.88,2616,-0.80,2624,-0.77,2632,-0.85,2640,-0.74,2648,-0.81,
2652,-0.89,2660,-0.84,2668,-0.95,2676,-0.82,2684,-0.91,2692,-0.86,2700,-0.98,2708,-0.80,2716,-0.92,2724,-0.87,2732,-0.96,2740,-0.83,2748,-0.89,2756,-0.93,2764,-0.81,2772,-0.97,2780,-0.86];
const vehExtraC = [2794,0.89,2802,0.83,2810,0.96,2818,0.88,2826,0.81,2834,0.93,2842,0.86,2850,0.98,2858,0.84,2866,0.90,2874,0.80,2882,0.95,2890,0.87,2898,0.92,2906,0.82,2914,0.97,2922,0.89,2930,0.85,2938,0.94,2946,0.81,2954,0.90,2962,0.86,2970,0.98,2978,0.83,2986,0.91,2994,0.87,
3026,0.76,3029,0.83,3035,0.79,3038,0.70,3041,0.86,3047,0.78,3050,0.73,3053,0.82,3059,0.77,3062,0.85,3068,0.71,3071,0.80,3077,0.84,3080,0.76,3086,0.81,3089,0.71,3095,0.83,3098,0.77,3104,0.86,3107,0.72,3113,0.80,3116,0.75];
const vehExtraD = [3152,-0.82,3160,-0.77,3168,-0.85,3176,-0.74,3184,-0.81,3192,-0.87,3200,-0.76,3208,-0.83,3216,-0.78,3224,-0.86,3232,-0.73,3240,-0.80,3248,-0.85,3256,-0.77,3264,-0.82,3272,-0.88,3280,-0.75,3288,-0.81,3296,-0.86,3304,-0.78,3312,-0.83,3320,-0.90,
3348,-0.88,3356,-0.82,3364,-0.91,3372,-0.85,3380,-0.94,3388,-0.83,3396,-0.89,3404,-0.86,3412,-0.92,3420,-0.80,3428,-0.88,3436,-0.95,3444,-0.85,3452,-0.91,3460,-0.83,3464,-0.94];
const vehExtraE = [3482,0.90,3490,0.84,3498,0.93,3506,0.87,3514,0.80,3522,0.95,3530,0.88,3538,0.83,3546,0.91,3554,0.96,3562,0.85,3570,0.90,3578,0.82,3586,0.94,3594,0.87,3602,0.92,3610,0.84,3618,0.89,3626,0.95,3634,0.82,3642,0.90,3650,0.86,3660,0.93,3668,0.85,3676,0.91,3684,0.81,3692,0.88,3700,0.94,3708,0.86,3716,0.80,
3724,0.83,3730,0.76,3738,0.69,3744,0.80,3750,0.72,3756,0.84,3762,0.77,3768,0.70,3774,0.81,3780,0.74,3786,0.78,3792,0.72,3798,0.83,3804,0.73,3810,0.70];
const vehExtraF = [3840,-0.84,3848,-0.79,3856,-0.87,3864,-0.81,3872,-0.76,3880,-0.85,3888,-0.82,3896,-0.89,3904,-0.80,3912,-0.85,3920,-0.77,3928,-0.84,3936,-0.88,3944,-0.82,3952,-0.79,3960,-0.87,3968,-0.83,3976,-0.90,3984,-0.81,3992,-0.86,4000,-0.89,4008,-0.83,4016,-0.87,4024,-0.92,4032,-0.84,4040,-0.88,4048,-0.85,4056,-0.91,4064,-0.86,4072,-0.89,4080,-0.94,4088,-0.85,4096,-0.90,4104,-0.87,4112,-0.92,4120,-0.83,4128,-0.89,4136,-0.93,4144,-0.86];
const vehExtraG = [4166,0.91,4174,0.86,4182,0.94,4190,0.88,4198,0.83,4206,0.95,4214,0.90,4222,0.86,4230,0.93,4238,0.88,4246,0.96,4254,0.84,4262,0.90,4270,0.87,4278,0.94,4286,0.91,4294,0.85,4302,0.93,4310,0.88,4318,0.96,4326,0.83,4334,0.92,4342,0.88,4350,0.95,4358,0.86,4366,0.91,4374,0.87,
4382,0.84,4390,0.86,4398,0.79,4406,0.85,4414,0.78,4422,0.83,4430,0.77,4438,0.81,4446,0.75,4454,0.79,4462,0.74,4470,0.78,4478,0.71,4486,0.76,4494,0.70];
const vehExtraH = [4529,-0.81,4537,-0.86,4545,-0.79,4553,-0.84,4561,-0.77,4569,-0.85,4577,-0.80,4585,-0.87,4593,-0.78,4601,-0.82,4609,-0.85,4617,-0.79,4625,-0.83,4633,-0.88,4641,-0.80,4649,-0.84,4657,-0.77,4665,-0.82,4673,-0.87,4681,-0.80,4689,-0.84,
4697,-0.86,4705,-0.91,4713,-0.84,4721,-0.89,4729,-0.94,4737,-0.85,4745,-0.90,4753,-0.83,4761,-0.88,4769,-0.95,4777,-0.86,4785,-0.91,4793,-0.85,4801,-0.89,4809,-0.83,4817,-0.92,4825,-0.86,4833,-0.90,4841,-0.88];

// ---------- ADCP 1 ----------
const adcp1Leg1 = [2320,0.88,2323,0.76,2326,0.92,2329,0.83,2332,0.70,2335,0.86,2338,0.79,2341,0.95,2344,0.74,2347,0.84,2350,0.89,2353,0.72,2356,0.81,2359,0.77,2362,0.87,2365,0.83,2368,0.68,2371,0.90,2374,0.80,2377,0.75,2380,0.85,2383,0.55,2386,0.93,2389,0.78,2392,0.82,2395,0.71,2398,0.88,2401,0.76,2404,0.84,2407,1.08,2410,0.79,2413,0.73,2416,0.86,2419,0.81,2422,0.90,2425,0.70,2428,0.83,2431,0.77,2434,0.86,2436,1.02,2437,0.64,
2440,0.39,2441,0.16,2444,-1.50,2446,-1.42,2448,-1.36,2451,-1.20,2454,-1.02,2457,-0.90,2455,-0.72,2458,-0.63];
const adcp1Leg2 = [2462,-0.83,2466,-0.72,2470,-0.88,2474,-0.78,2478,-0.85,2482,-0.74,2486,-0.90,2490,-0.80,2494,-0.76,2498,-0.86,2502,-0.70,2506,-0.83,2510,-0.79,2514,-0.88,2518,-0.73,2522,-0.82,2526,-0.66,2530,-0.85,2534,-0.77,2538,-0.81,2542,-0.89,2546,-0.71,2550,-0.84,2554,-0.68,2558,-0.79,2562,-0.87,2566,-0.75,2570,-0.82,2574,-0.66,2578,-0.90,2582,-0.78,2586,-0.84,2590,-0.72,2594,-0.81,2598,-0.88,2602,-0.76,2606,-0.83,2610,-0.70,2614,-0.86,2618,-0.79,2622,-0.91,2626,-0.74,2630,-0.82,2634,-0.87,2638,-0.77,2642,-0.84,
2650,-0.86,2654,-0.94,2658,-0.81,2662,-0.90,2666,-0.84,2670,-0.97,2674,-0.88,2678,-0.80,2682,-0.93,2686,-0.86,2700,-0.72,2701,-0.80,2702,-0.88,2703,-0.95,2704,-0.99,2705,-0.76,2710,-0.90,2714,-0.83,2718,-0.96,2722,-0.87,2726,-0.92,2730,-0.81,2734,-0.89,2738,-0.95,2742,-0.85,2746,-0.91,2750,-0.78,2754,-0.88,2758,-0.94,2762,-0.84,2766,-0.90,2770,-0.65,2771,-0.75,2772,-0.98,2773,-1.05,2776,-0.86,2780,-0.94,
2784,-0.02,2785,0.08,2786,0.16,2787,0.64,2788,0.74];
const adcp1Leg3 = [2790,0.94,2794,0.82,2798,0.99,2802,0.88,2806,0.76,2810,0.93,2814,0.86,2818,1.03,2822,0.90,2826,0.79,2830,0.96,2834,0.87,2838,0.83,2842,1.00,2846,0.91,2850,0.77,2854,0.94,2858,0.85,2862,0.98,2866,0.89,2870,0.81,2874,1.04,2878,0.92,2882,0.86,2886,0.78,2890,0.95,2894,0.88,2898,1.06,2902,0.84,2906,0.91,2910,0.97,2914,0.80,2918,0.89,2922,0.93,2926,0.85,2930,1.01,2934,0.87,2938,0.79,2942,0.95,2946,0.90,2950,0.83,2952,1.13,2956,0.96,2960,0.88,2964,0.81,2968,0.98,2972,0.90,2976,1.05,2980,0.86,2984,0.93,2988,0.99,2992,0.91,2996,1.02,2999,0.94,
3002,1.07,3021,1.10,3022,0.94,
3026,0.84,3032,0.79,3038,0.90,3044,0.75,3050,0.86,3056,0.81,3062,0.93,3068,0.77,3074,0.85,3080,0.88,3086,0.74,3092,0.83,3098,0.91,3104,0.79,3110,0.86,3116,0.72,
3121,0.20,3124,-0.70,3126,-1.18,3128,-1.40,3131,-1.45,3134,-1.30,3137,-1.08,3140,-0.95];
const adcp1Leg4 = [3150,-0.83,3154,-0.74,3158,-0.88,3162,-0.79,3166,-0.69,3170,-0.85,3174,-0.77,3178,-0.90,3182,-0.81,3186,-0.73,3190,-0.87,3194,-0.78,3198,-0.84,3202,-0.96,3203,-1.17,3204,-1.25,3203,-1.32,3204,-1.40,3208,-0.80,3212,-0.72,3216,-0.86,3220,-0.79,3224,-0.89,3228,-0.75,3232,-0.83,3236,-0.70,3240,-0.87,3244,-0.81,3248,-0.76,3252,-0.85,3256,-0.92,3260,-0.78,3264,-0.84,3268,-0.73,3272,-0.88,3276,-0.80,3280,-0.69,3285,-0.63,3286,-0.70,3287,-0.76,3288,-0.82,3289,-0.88,3294,-0.79,3298,-0.85,3302,-0.74,3306,-0.90,3310,-0.81,3314,-0.87,3318,-0.77,3322,-1.14,3325,-0.83,3329,-0.57,3330,-0.66,3331,-0.75,3332,-0.93,3336,-1.14,3340,-0.86,
3346,-0.90,3352,-0.82,3358,-0.95,3364,-0.87,3370,-0.80,3376,-0.92,3382,-0.85,3388,-0.97,3394,-0.88,3400,-0.83,3406,-0.93,3412,-0.86,3418,-0.90,3424,-0.80,3430,-0.94,3436,-0.87,3441,-0.70,3442,-0.76,3443,-0.82,3444,-0.88,3445,-0.95,3446,-1.02,3447,-1.09,3452,-0.91,3458,-0.84,3464,-0.93,3467,-0.66,
3472,0.40,3504,-0.92,3505,-0.71,3504,-0.54,3505,-0.23,3504,0.13,3505,0.28,3504,0.46,3505,0.55,3504,0.72,3505,1.18,3504,1.29];
const adcp1Leg5 = [3480,0.91,3484,0.80,3488,0.95,3492,0.86,3496,0.74,3500,0.89,3508,0.97,3512,0.83,3516,0.90,3520,0.78,3524,0.93,3528,0.87,3532,1.00,3536,0.82,3540,0.91,3544,0.76,3548,0.94,3552,0.88,3556,0.84,3560,0.98,3564,0.90,3568,0.79,3572,0.93,3576,0.86,3580,1.02,3584,0.83,3588,0.92,3592,0.77,3596,0.89,3600,0.95,3604,0.85,3608,0.91,3612,0.81,3616,0.96,3621,1.05,3622,0.99,3623,0.94,3624,0.88,3625,0.84,3626,0.79,3627,0.73,3628,1.02,3629,0.91,3630,0.86,3636,0.95,3640,0.82,3644,0.90,3648,0.78,3652,0.93,3656,0.87,3660,0.81,3664,0.97,3668,0.89,3672,0.76,3676,0.92,3680,0.85,3684,1.06,3686,0.98,3688,0.62,3690,0.87,3694,0.94,3698,0.80,3702,0.89,3706,0.83,3710,0.75,3714,0.91,3718,0.86,
3726,0.82,3731,0.71,3736,0.88,3741,0.76,3746,0.65,3750,0.80,3755,1.31,3756,1.19,3759,0.97,3760,0.88,3761,0.80,3762,0.71,3763,0.61,3764,0.54,3765,0.50,3770,0.84,3775,0.73,3780,0.79,3785,0.68,3790,0.85,3795,0.74,3800,0.81,3805,0.70,3809,0.77,
3814,0.10,3817,-0.60,3819,-1.05,3821,-1.38,3824,-1.40,3828,-1.15,3832,-0.97,
3866,1.05,3867,0.96,3866,0.79,3867,0.77,3866,0.71,3867,0.40,3866,0.17,3866,-0.43,3867,-0.59,3866,-0.63,3867,-0.67,3866,-0.98,3867,-1.08,3866,-1.19,3867,-1.28,3866,-1.34,3867,-1.41,3866,-1.45];
const adcp1Leg6 = [3840,-0.80,3844,-0.72,3848,-0.86,3852,-0.77,3856,-0.83,3860,-0.75,3864,-0.89,3868,-0.81,3872,-0.70,3876,-0.85,3880,-0.78,3884,-0.92,3888,-0.74,3892,-0.84,3896,-0.80,3900,-0.88,3904,-0.76,3908,-0.83,3912,-0.60,3914,-0.68,3916,-0.90,3920,-0.79,3924,-0.85,3928,-0.73,3932,-0.88,3936,-0.81,3940,-0.94,3944,-0.77,3948,-0.84,3952,-0.89,3956,-0.75,3960,-0.86,3964,-0.80,3968,-0.92,3972,-0.78,3976,-0.85,3980,-0.82,3984,-0.70,3988,-0.88,3992,-0.83,3996,-0.91,4000,-0.77,4004,-0.86,4008,-0.81,4012,-0.94,4016,-0.79,4020,-0.87,4024,-0.84,4028,-0.68,4032,-0.90,4036,-0.82,4040,-0.97,4044,-0.86,4048,-0.78,4052,-0.92,4056,-0.85,4060,-0.89,4064,-0.80,4068,-0.95,4072,-0.87,4076,-0.83,4080,-0.98,4084,-0.90,4088,-0.85,4092,-0.79,4096,-0.93,4100,-0.88,4104,-0.82,4108,-0.96,4112,-0.86,4116,-0.91,4120,-0.84,4124,-0.99,4128,-0.87,4132,-0.93,4136,-0.80,4140,-0.89,4144,-0.95,4148,-0.86,
4154,0.02,4156,0.36,4159,0.80,
4207,-0.04,4208,-0.24,4207,-0.46,4208,-0.67,4207,-0.73,4208,-0.77,4207,-0.80,4208,-0.93,4207,-1.04];
const adcp1Leg7 = [4164,0.93,4168,0.84,4172,0.97,4176,0.88,4180,0.79,4184,0.92,4188,0.86,4192,1.00,4196,0.90,4200,0.82,4204,0.95,4210,1.22,4212,0.88,4216,0.96,4220,0.83,4224,0.91,4228,0.87,4232,1.02,4236,0.94,4240,0.80,4244,0.89,4248,0.97,4252,0.85,4256,0.92,4260,0.78,4264,0.95,4268,0.88,4272,1.03,4276,0.91,4280,0.84,4284,0.96,4288,0.89,4292,0.81,4296,0.93,4300,0.87,4304,1.01,4308,0.90,4312,0.83,4316,0.95,4320,0.88,4324,0.76,4328,0.92,4332,0.85,4336,0.98,4340,0.89,4344,0.82,4348,0.94,4352,0.87,4356,0.79,4360,0.91,4364,0.85,4368,0.96,4372,0.88,4378,1.13,4380,0.83,
4386,0.86,4392,0.78,4398,0.90,4404,0.81,4410,0.74,4416,0.85,4422,0.79,4428,0.69,4434,0.82,4440,0.75,4446,0.80,4452,0.71,4458,0.77,4464,0.66,4470,0.74,4476,0.79,4482,0.68,4488,0.72,4494,0.76,
4499,0.38,4500,0.10,4503,-0.70,4505,-0.33,4505,-1.25,4507,-1.43,4510,-1.40,4513,-1.15,4516,-0.98,4510,-0.58,4512,-0.66];
const adcp1Leg8 = [4530,-0.80,4534,-0.87,4538,-0.74,4540,-0.60,4544,-0.83,4548,-0.78,4552,-0.89,4556,-0.81,4560,-0.72,4564,-0.85,4568,-0.79,4572,-0.88,4576,-0.76,4580,-0.84,4584,-0.70,4588,-0.82,4592,-0.87,4596,-0.77,4600,-0.93,4604,-0.80,4608,-0.85,4612,-0.74,4616,-0.83,4620,-0.89,4624,-0.78,4628,-0.84,4632,-0.71,4636,-0.86,4640,-0.81,4644,-0.91,4648,-0.76,4652,-0.84,4656,-0.88,4660,-0.60,4661,-0.68,4662,-1.00,4664,-0.82,4668,-0.87,4672,-0.79,4676,-0.93,4680,-0.85,
4690,-0.88,4696,-0.80,4702,-0.92,4708,-0.85,4714,-0.97,4720,-0.89,4726,-0.81,4732,-0.94,4736,-1.00,4740,-0.86,4746,-0.90,4752,-0.83,4758,-0.95,4764,-0.88,4770,-0.80,4776,-0.91,4778,-0.67,4782,-0.86,4788,-0.96,4794,-0.84,4800,-0.89,4806,-0.93,4812,-0.81,4818,-0.90,4824,-0.86,4830,-0.95,4836,-0.88,4840,-0.82,
4845,-0.31,4847,0.12,4850,0.52];
const adcp1Leg9 = [4853,0.88,4858,0.80,4862,0.96,4866,0.87];
const adcp1Extra = [2339,0.72,2360,0.92,2392,0.70,2418,0.95,
2476,-0.70,2524,-0.92,2548,-0.76,2588,-0.70,2612,-0.92,2644,-0.73,2664,-0.79,2690,-0.96,2744,-0.80,2760,-1.00,
2800,0.76,2836,1.02,2880,0.78,2920,1.04,2962,0.78,2994,0.85,3060,0.76,3090,0.92,
3160,-0.91,3196,-0.71,3234,-0.93,3270,-0.70,3304,-0.92,3360,-0.78,3398,-0.98,3432,-0.79,3460,-0.97,
3506,0.79,3542,1.02,3574,0.76,3606,1.03,3646,0.98,3678,0.75,3712,1.00,3748,0.88,3788,0.64,
3850,-0.90,3890,-0.70,3938,-0.92,3978,-0.72,4018,-0.95,4060,-0.74,4102,-1.00,4138,-0.76,
4182,0.80,4222,1.01,4262,0.80,4302,0.78,4342,1.02,4370,0.79,4420,0.89,4460,0.83,4490,0.66,
4546,-0.92,4582,-0.72,4618,-0.94,4650,-0.74,4700,-0.98,4734,-0.78,4772,-0.99,4808,-0.77,4834,-1.00];

// ---------- ADCP 2 ----------
const adcp2Leg1 = [2321,0.83,2324,0.75,2327,0.89,2330,0.79,2333,0.86,2336,0.71,2339,0.82,2342,0.60,2345,0.91,2348,0.77,2351,0.84,2354,0.73,2357,0.88,2360,0.80,2363,0.69,2366,0.85,2369,0.78,2372,0.93,2375,0.74,2378,0.82,2381,0.87,2384,1.03,2387,0.76,2390,0.83,2393,0.99,2394,0.97,2396,0.70,2399,0.86,2402,0.53,2405,0.79,2408,0.90,2411,0.75,2414,0.84,2417,0.81,2420,0.72,2423,0.88,2426,0.78,2429,0.85,2432,0.77,2436,0.75,2436,0.66,2437,0.58,2437,0.55,
2439,0.12,2447,-1.46,2452,-1.18,2456,-0.45,2456,-0.75,2458,-0.92,
2495,-1.03,2496,-1.12,2495,-1.26,2496,-1.31,2495,-1.34,2496,-1.38,2495,-1.42,2496,-1.49];
const adcp2Leg2 = [2462,-0.78,2466,-0.85,2470,-0.72,2474,-0.88,2478,-0.80,2482,-0.75,2486,-0.84,2490,-0.79,2494,-0.86,2498,-0.73,2502,-0.82,2504,-0.70,2505,-0.76,2506,-0.87,2510,-0.81,2514,-0.89,2518,-0.77,2522,-0.84,2526,-0.74,2530,-0.83,2534,-0.79,2538,-0.56,2542,-0.86,2546,-0.78,2550,-0.84,2554,-0.71,2558,-0.82,2562,-0.88,2566,-0.76,2570,-0.58,2574,-0.80,2578,-0.85,2582,-0.74,2586,-0.87,2590,-0.81,2594,-0.77,2598,-0.83,2602,-0.89,2606,-0.75,2610,-0.84,2614,-0.80,2618,-0.72,2622,-0.86,2626,-0.79,2630,-0.83,2634,-0.76,2638,-0.88,2642,-0.81,2646,-0.85,
2652,-0.90,2658,-0.83,2664,-0.95,2670,-0.87,2676,-0.81,2682,-0.92,2688,-0.86,2694,-0.97,2700,-0.70,2701,-0.78,2702,-0.85,2703,-0.91,2704,-0.97,2710,-0.88,2716,-0.82,2722,-0.94,2728,-0.87,2734,-0.91,2740,-0.84,2746,-0.96,2752,-0.89,2758,-0.83,2764,-0.93,2768,-0.72,2769,-0.80,2770,-0.88,2771,-0.95,2772,-1.00,2776,-0.86,2777,-1.12,2778,-1.27,2780,-0.92,
2786,0.40,2809,0.56,2809,0.49,2809,0.38,2809,0.14];
const adcp2Leg3 = [2790,0.87,2794,0.95,2798,0.80,2802,0.91,2806,0.98,2810,0.84,2814,0.89,2818,0.77,2822,0.93,2826,1.01,2830,0.86,2834,0.92,2838,1.09,2840,0.79,2844,0.88,2848,0.95,2852,0.83,2856,0.90,2860,1.00,2864,0.86,2868,0.93,2872,0.78,2876,0.89,2880,0.97,2884,0.84,2888,0.91,2892,0.87,2896,0.99,2900,0.82,2904,0.94,2908,0.88,2912,0.76,2916,0.92,2920,0.85,2924,1.02,2928,0.90,2932,0.83,2936,0.95,2940,0.88,2944,0.80,2948,0.93,2952,0.86,2956,0.98,2960,0.91,2964,0.84,2968,0.89,2972,0.96,2976,0.82,2980,0.90,2984,0.87,2988,0.94,2992,0.79,2996,0.91,
3002,1.15,3002,1.06,3003,0.96,3002,0.87,3003,0.80,3002,0.73,3003,0.52,3021,1.14,3021,1.01,3022,0.90,3021,0.68,
3028,0.82,3036,0.76,3044,0.86,3052,0.79,3060,0.88,3068,0.74,3076,0.83,3084,0.80,3092,0.87,3100,0.76,3106,0.84,3114,1.00,3115,0.93,3116,0.86,3115,0.79,3116,0.71,3115,0.64,3116,0.57,3115,0.49,
3121,0.16,3122,-0.10,3127,-1.30,3133,-1.35,3138,-1.02];
const adcp2Leg4 = [3152,-0.80,3158,-0.86,3164,-0.76,3166,-1.26,3170,-0.83,3176,-0.79,3182,-0.88,3188,-0.74,3194,-0.82,3200,-0.78,3202,-0.98,3203,-1.02,3203,-1.13,3204,-1.18,3203,-1.23,3204,-1.27,3203,-1.31,3204,-1.35,3203,-1.38,3204,-1.42,3206,-0.72,3207,-0.80,3208,-0.87,3209,-0.93,3214,-0.84,3220,-0.77,3226,-0.86,3232,-0.81,3238,-0.89,3244,-0.75,3250,-0.84,3256,-0.70,3257,-0.78,3258,-0.86,3259,-0.94,3260,-1.00,3266,-0.82,3272,-0.79,3278,-0.87,3286,-0.73,3287,-0.80,3288,-0.86,3294,-0.83,3300,-0.77,3306,-0.88,3312,-0.81,3318,-0.55,3319,-0.63,3320,-0.72,3321,-0.80,3322,-0.88,3323,-0.96,3330,-0.84,3336,-0.90,3342,-0.79,
3348,-0.86,3354,-0.93,3360,-0.82,3366,-0.89,3372,-0.96,3378,-0.85,3384,-0.91,3390,-0.80,3396,-0.88,3402,-0.94,3408,-0.84,3414,-0.90,3420,-0.79,3426,-0.87,3432,-0.93,3438,-0.72,3440,-0.79,3442,-0.86,3444,-0.92,3446,-0.98,3448,-1.03,3450,-0.84,3452,-0.76,3454,-0.89,3456,-0.95,3458,-0.82,3460,-0.88,3462,-0.99,3464,-0.78,3466,-0.90,3467,-0.65,
3469,-0.46,3472,0.43,3493,0.64,3504,0.67];
const adcp2Leg5 = [3482,0.88,3486,0.81,3490,0.94,3494,0.86,3498,0.78,3502,0.91,3506,0.84,3510,0.97,3514,0.89,3518,0.82,3522,0.93,3526,0.87,3530,0.79,3534,0.95,3538,0.90,3542,0.83,3546,0.99,3550,0.86,3554,0.92,3558,0.80,3562,0.88,3566,0.96,3570,0.84,3574,0.91,3578,0.77,3582,0.89,3586,0.94,3590,0.85,3594,1.01,3598,0.88,3602,0.82,3606,0.93,3610,0.87,3614,0.79,3618,0.90,3622,0.96,3626,0.84,3630,0.89,3634,0.76,3638,0.92,3642,0.86,3646,0.98,3650,1.12,3651,1.06,3652,1.00,3656,0.83,3660,0.91,3664,0.87,3668,0.95,3672,0.81,3676,0.89,3680,0.93,3682,1.04,3683,0.98,3684,0.72,3688,0.85,3692,0.90,3696,0.78,3700,0.88,3704,0.94,3708,0.83,3712,0.89,3716,0.76,
3722,0.84,3727,0.70,3731,1.29,3732,1.24,3733,1.21,3735,0.80,3737,0.68,3739,0.60,3741,0.53,3746,0.86,3751,0.74,3756,0.82,3761,0.66,3766,0.79,3771,0.89,3776,0.72,3781,0.84,3786,0.63,3791,0.77,3796,0.70,3801,0.81,3806,0.67,3810,0.74,
3815,-0.40,3820,-1.38,3826,-1.25,
3855,1.05,3856,1.01,3855,0.94,3856,0.67,3855,0.63,3856,0.60,3855,0.32,3855,-0.28,3856,-0.55,3855,-0.60,3856,-1.03,3855,-1.08,3856,-1.15,3855,-1.20,3856,-1.26,3855,-1.35,3856,-1.38,3855,-1.45];
const adcp2Leg6 = [3840,-0.82,3846,-0.76,3852,-0.88,3858,-0.79,3864,-0.85,3870,-0.73,3876,-0.83,3882,-0.90,3888,-0.78,3894,-0.86,3900,-0.81,3906,-0.74,3912,-0.88,3918,-0.83,3924,-0.79,3930,-0.91,3936,-0.85,3942,-0.77,3950,-0.62,3951,-0.69,3952,-0.75,3953,-0.81,3954,-0.87,3955,-0.92,3960,-0.80,3964,-0.70,3966,-0.84,3972,-0.89,3978,-0.78,3984,-0.86,3990,-0.81,3996,-0.92,4002,-0.84,4008,-0.76,4014,-0.87,4020,-0.83,4024,-0.70,4025,-0.77,4026,-0.84,4027,-0.90,4028,-0.95,4034,-0.82,4040,-0.89,4046,-0.85,4052,-0.93,4058,-0.80,4064,-0.75,4065,-0.82,4066,-0.88,4067,-0.94,4072,-0.86,4078,-0.90,4084,-0.83,4090,-0.96,4096,-0.87,4102,-0.81,4108,-0.93,4110,-0.78,4111,-0.85,4112,-0.91,4113,-0.97,4118,-0.84,4124,-0.89,4130,-0.94,4136,-0.82,4142,-0.88,4148,-0.91,
4157,0.20,4158,0.55,
4163,-0.74,4164,-0.80,4163,-0.86,4164,-0.92,4163,-0.97,4164,-1.02,
4207,-0.34,4208,-0.44,4207,-0.84,4208,-0.89,4207,-0.97,4208,-1.01];
const adcp2Leg7 = [4164,0.90,4170,0.83,4176,0.95,4182,0.87,4188,0.80,4192,0.93,4196,0.86,4200,0.98,4204,0.89,4208,0.71,4209,0.67,4212,0.84,4216,0.92,4220,0.88,4224,0.97,4228,0.82,4232,0.90,4236,0.86,4240,0.95,4244,0.79,4248,0.91,4252,0.87,4256,1.00,4260,0.84,4264,0.93,4268,0.88,4272,0.81,4276,0.94,4280,0.90,4284,0.85,4288,0.99,4292,0.86,4296,0.92,4300,0.80,4304,0.89,4308,0.95,4312,0.87,4316,0.83,4320,0.96,4324,0.89,4328,0.84,4332,0.93,4336,0.79,4340,0.91,4344,0.86,4348,0.97,4352,0.84,4356,0.90,4360,0.82,4364,0.94,4368,0.87,4372,0.80,4376,0.91,
4382,0.84,4388,0.78,4394,0.88,4400,0.73,4406,0.82,4412,0.76,4418,0.85,4424,0.70,4430,0.79,4436,0.74,4442,0.62,4443,0.52,4448,0.67,4454,0.76,4460,0.71,4466,0.80,4472,0.64,4478,0.73,4484,0.69,4490,0.77,4495,0.60,
4500,-0.02,4502,-0.28,4502,-0.50,4504,-0.80,4506,-1.30,4508,-1.44,4511,-1.30,4515,-1.02];
const adcp2Leg8 = [4530,-0.82,4536,-0.76,4542,-0.88,4546,-0.70,4547,-1.13,4548,-1.28,4549,-1.33,4550,-0.79,4556,-0.85,4562,-0.74,4568,-0.83,4574,-0.89,4580,-0.78,4586,-0.84,4592,-0.80,4598,-0.91,4604,-0.75,4610,-0.86,4616,-0.82,4620,-0.69,4621,-0.76,4622,-0.83,4623,-0.89,4624,-0.95,4630,-0.79,4636,-0.87,4642,-0.81,4648,-0.92,4650,-0.64,4651,-0.72,4652,-0.80,4653,-0.88,4654,-0.94,4660,-0.78,4666,-0.86,4672,-0.83,4678,-0.90,4684,-0.76,4690,-0.85,
4696,-0.88,4702,-0.93,4708,-0.82,4714,-0.90,4720,-0.86,4726,-0.95,4732,-0.80,4738,-0.89,4743,-0.47,4744,-0.52,4744,-0.58,4745,-0.63,4745,-0.70,4746,-0.76,4746,-0.82,4750,-0.92,4756,-0.85,4762,-0.78,4768,-0.89,4774,-0.94,4780,-0.83,4786,-0.76,4788,-0.88,4792,-0.91,4798,-0.84,4804,-0.97,4810,-0.86,4816,-0.80,4822,-0.93,4828,-0.88,4834,-0.82,4840,-0.73,4841,-0.85,4842,-0.95,4842,-1.07,
4845,-0.48,4849,0.37];
const adcp2Leg9 = [4852,0.92,4852,0.62,4856,0.80,4860,0.96,4864,0.86];
const adcp2Extra = [2334,0.94,2358,0.69,2388,0.91,2416,0.68,2430,0.93,
2480,-0.91,2520,-0.70,2556,-0.92,2596,-0.70,2628,-0.93,2660,-0.78,2686,-1.00,2724,-0.80,2756,-0.99,
2808,0.78,2846,1.04,2886,0.77,2926,0.79,2966,1.03,3034,0.90,3070,0.70,3098,0.91,
3168,-0.92,3210,-0.73,3248,-0.93,3276,-0.71,3310,-0.93,3368,-0.80,3404,-1.00,3436,-0.80,
3500,0.97,3540,0.76,3576,1.02,3612,0.74,3648,0.79,3690,1.03,3714,0.95,3764,0.58,3798,0.88,
3860,-0.92,3902,-0.71,3944,-0.93,3986,-0.73,4030,-0.78,4070,-0.97,4116,-0.74,4144,-0.98,
4186,1.02,4226,0.78,4266,1.03,4306,0.78,4346,0.78,4372,1.01,4410,0.88,4452,0.82,4486,0.60,
4540,-0.93,4578,-0.72,4612,-0.95,4646,-0.73,4698,-0.99,4730,-0.77,4770,-1.00,4806,-0.78,4830,-0.99];

const ctdLegs = [ctdLeg1, ctdLeg2, ctdLeg3, ctdLeg4, ctdLeg5, ctdLeg6, ctdLeg7, ctdLeg8, ctdLeg9,
  ctdExtraA, ctdExtraB, ctdExtraC, ctdExtraD, ctdExtraE, ctdExtraF, ctdExtraG, ctdExtraH];
const vehLegs = [vehLeg1, vehLeg2, vehLeg3, vehLeg4, vehLeg5, vehLeg6, vehLeg7, vehLeg8, vehLeg9,
  vehExtraA, vehExtraB, vehExtraC, vehExtraD, vehExtraE, vehExtraF, vehExtraG, vehExtraH];
const adcp1Legs = [adcp1Leg1, adcp1Leg2, adcp1Leg3, adcp1Leg4, adcp1Leg5, adcp1Leg6, adcp1Leg7, adcp1Leg8, adcp1Leg9, adcp1Extra];
const adcp2Legs = [adcp2Leg1, adcp2Leg2, adcp2Leg3, adcp2Leg4, adcp2Leg5, adcp2Leg6, adcp2Leg7, adcp2Leg8, adcp2Leg9, adcp2Extra];

function toPoints(legs: number[][]) {
  const out: { t: number; v: number }[] = [];
  legs.forEach((leg) => {
    for (let i = 0; i + 1 < leg.length; i += 2) out.push({ t: leg[i], v: leg[i + 1] });
  });
  return out;
}

const seriesData = [toPoints(ctdLegs), toPoints(vehLegs), toPoints(adcp1Legs), toPoints(adcp2Legs)];

const FONT = '"Liberation Sans", Arial, Helvetica, sans-serif';
const AXIS = '#262626';
const W = 1274;
const H = 715;
const PLOT_LEFT = 97;
const PLOT_TOP = 50;
const PLOT_BOTTOM = 645;
const TICK_LEN = 12;

const XTick = (props: any) => {
  const { x, payload } = props;
  const idx = xTicks.indexOf(payload.value);
  return (
    <g>
      <line x1={x} x2={x} y1={PLOT_BOTTOM} y2={PLOT_BOTTOM - TICK_LEN} stroke={AXIS} strokeWidth={1} />
      <text x={x} y={PLOT_BOTTOM + 24} textAnchor="middle" dominantBaseline="central" fontSize={20} fill={AXIS} fontFamily={FONT}>
        {idx >= 0 ? xTickLabels[idx] : ''}
      </text>
    </g>
  );
};

const YTick = (props: any) => {
  const { y, payload } = props;
  const idx = yTicks.indexOf(payload.value);
  return (
    <g>
      <line x1={PLOT_LEFT} x2={PLOT_LEFT + TICK_LEN} y1={y} y2={y} stroke={AXIS} strokeWidth={1} />
      <text x={PLOT_LEFT - 10} y={y} textAnchor="end" dominantBaseline="central" fontSize={20} fill={AXIS} fontFamily={FONT}>
        {idx >= 0 ? yTickLabels[idx] : ''}
      </text>
    </g>
  );
};

const makeDot = (color: string) => (p: any) => <circle cx={p.cx} cy={p.cy} r={2.5} fill={color} />;

export default function App() {
  return (
    <div style={{ position: 'absolute', left: 0, top: 0, width: W, height: H, background: '#fff', fontFamily: FONT }}>
      <ScatterChart width={W} height={H} margin={{ top: PLOT_TOP, right: 0, bottom: 0, left: 0 }}>
        <CartesianGrid stroke="#dfdfdf" strokeWidth={1} fill="none" />
        <XAxis
          type="number"
          dataKey="t"
          domain={[2320, 4868]}
          ticks={xTicks}
          interval={0}
          allowDataOverflow
          height={H - PLOT_BOTTOM}
          tickLine={false}
          tickSize={0}
          tickMargin={0}
          axisLine={{ stroke: AXIS, strokeWidth: 1 }}
          tick={(p: any) => <XTick {...p} />}
        />
        <YAxis
          type="number"
          dataKey="v"
          domain={[-1.582, 1.454]}
          ticks={yTicks}
          interval={0}
          allowDataOverflow
          width={PLOT_LEFT}
          tickLine={false}
          tickSize={0}
          tickMargin={0}
          axisLine={{ stroke: AXIS, strokeWidth: 1 }}
          tick={(p: any) => <YTick {...p} />}
        />
        {seriesData.map((d, i) => (
          <Scatter
            key={seriesNames[i]}
            name={seriesNames[i]}
            data={d}
            fill={seriesColors[i]}
            isAnimationActive={false}
            shape={makeDot(seriesColors[i])}
          />
        ))}
      </ScatterChart>

      <div style={{ position: 'absolute', left: 0, top: 8, width: 1220, textAlign: 'center', fontSize: 32, fontWeight: 'bold', lineHeight: '38px', color: '#000' }}>
        Vertical velocities, without timestamp correction
      </div>
      <div style={{ position: 'absolute', left: 485, top: 683, width: 400, textAlign: 'center', fontSize: 27, lineHeight: '34px', color: AXIS }}>
        UTC time
      </div>
      <div style={{ position: 'absolute', left: 28 - 200, top: 367 - 17, width: 400, height: 34, textAlign: 'center', fontSize: 27, lineHeight: '34px', color: AXIS, transform: 'rotate(-90deg)', transformOrigin: '50% 50%' }}>
        Vertical velocity [m/s]
      </div>

      <div style={{ position: 'absolute', left: 1068, top: 68, width: 188, height: 150, boxSizing: 'border-box', border: `1px solid ${AXIS}`, background: '#fff' }}>
        {seriesNames.map((n, i) => (
          <div key={n} style={{ position: 'absolute', left: 0, top: 22 + i * 35.8 - 17, height: 34, width: 186 }}>
            <svg width={20} height={20} style={{ position: 'absolute', left: 29, top: 7 }}>
              <circle cx={10} cy={10} r={6} fill={seriesColors[i]} />
            </svg>
            <span style={{ position: 'absolute', left: 76, top: 0, fontSize: 27, lineHeight: '34px', color: '#000', whiteSpace: 'nowrap' }}>{n}</span>
          </div>
        ))}
      </div>
    </div>
  );
}
